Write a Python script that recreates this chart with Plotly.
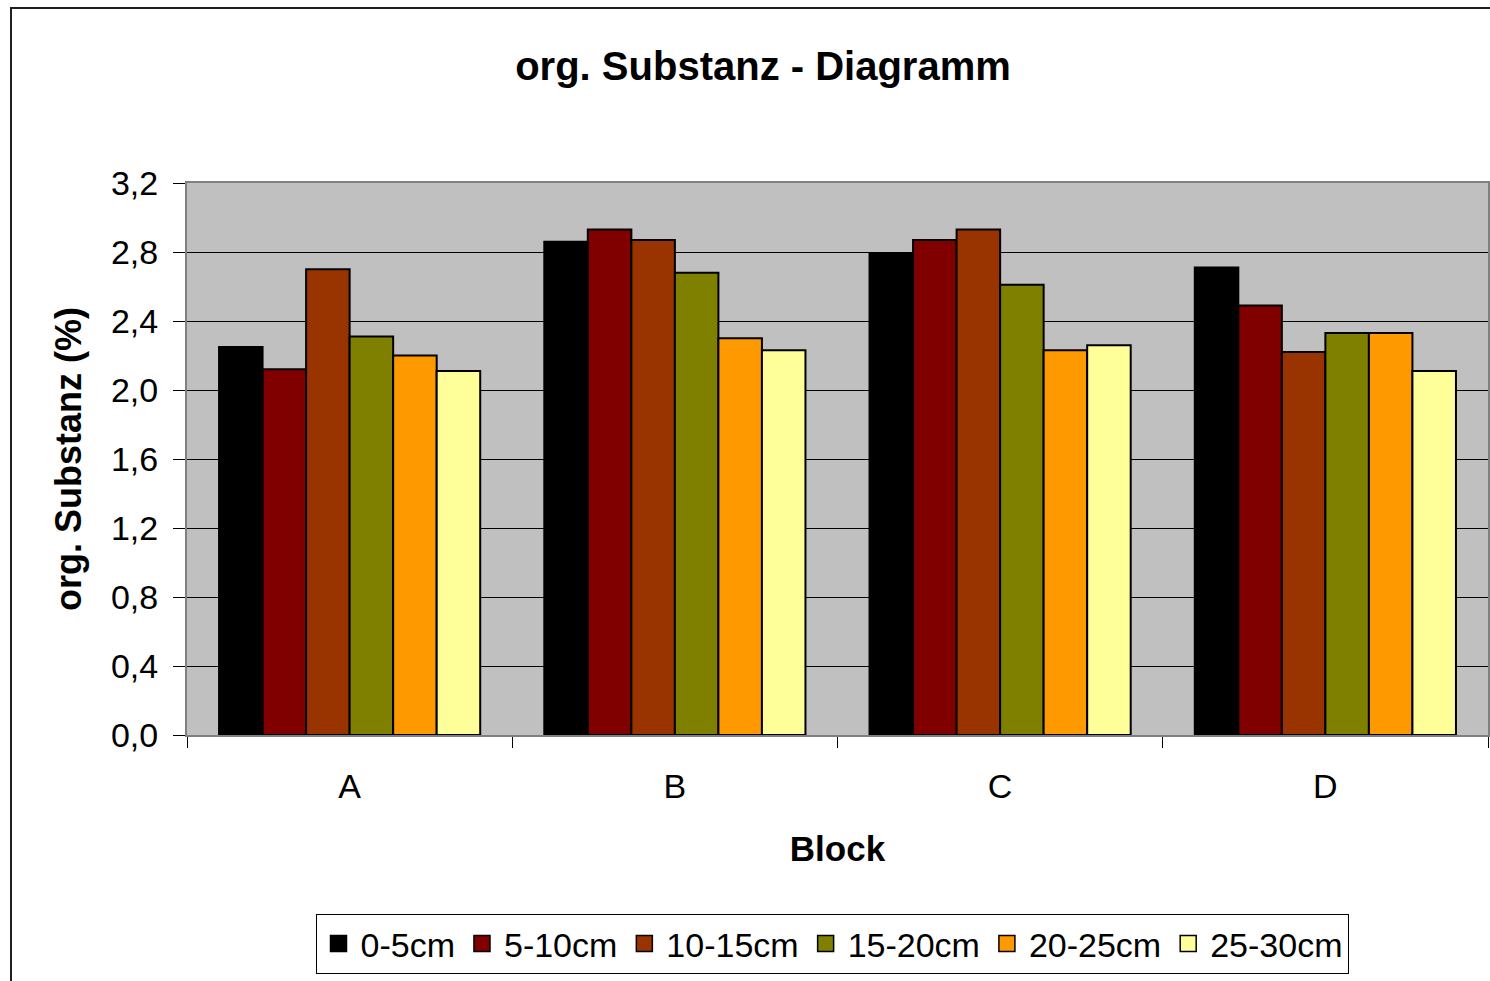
import plotly.graph_objects as go

# data
blocks = ["A", "B", "C", "D"]
depths = ["0-5cm", "5-10cm", "10-15cm", "15-20cm", "20-25cm", "25-30cm"]
values = {
    "0-5cm":   [2.25, 2.86, 2.79, 2.71],
    "5-10cm":  [2.12, 2.93, 2.87, 2.49],
    "10-15cm": [2.70, 2.87, 2.93, 2.22],
    "15-20cm": [2.31, 2.68, 2.61, 2.33],
    "20-25cm": [2.20, 2.30, 2.23, 2.33],
    "25-30cm": [2.11, 2.23, 2.26, 2.11],
}
colors = ["#000000", "#800000", "#993300", "#808000", "#FF9900", "#FFFF99"]

W, H = 1490, 981
L, R, T, B = 187, 2, 183, 981 - 735
PW, PH = W - L - R, H - T - B

def px(x):  # pixel -> paper x
    return (x - L) / PW

def py(y):  # pixel -> paper y
    return (H - B - y) / PH

FONT = "Liberation Sans, Arial, sans-serif"

fig = go.Figure()
for name, col in zip(depths, colors):
    fig.add_trace(go.Bar(
        x=blocks, y=values[name], name=name, showlegend=False,
        marker=dict(color=col, line=dict(color="black", width=2)),
    ))
    # legend entry with a bigger square swatch
    fig.add_trace(go.Scatter(
        x=[None], y=[None], mode="markers", name=name,
        marker=dict(symbol="square", size=18, color=col, line=dict(color="black", width=1.5)),
    ))

fig.update_layout(
    width=W, height=H,
    margin=dict(l=L, r=R, t=T, b=B, autoexpand=False),
    paper_bgcolor="white", plot_bgcolor="#C0C0C0",
    separators=",.",
    font=dict(family=FONT, size=34, color="black"),
    barmode="group", bargap=0.197, bargroupgap=0,
    title=dict(text="<b>org. Substanz - Diagramm</b>", x=763 / W, xanchor="center",
               y=1 - 66 / H, yanchor="middle", font=dict(size=40)),
    showlegend=True,
    legend=dict(orientation="h", x=px(832), xanchor="center", y=py(944), yanchor="middle",
                bordercolor="black", borderwidth=1, bgcolor="white",
                font=dict(size=34), traceorder="normal", itemclick=False, itemwidth=34),
    shapes=[dict(type="rect", xref="paper", yref="paper",
                 x0=px(11), y0=py(8), x1=px(1600), y1=py(1100),
                 line=dict(color="#202020", width=2), layer="below")],
)

fig.update_xaxes(
    type="category", tickson="boundaries", ticks="outside", ticklen=11, tickcolor="black",
    showline=True, linecolor="#808080", linewidth=2, mirror=True,
    tickfont=dict(size=34), ticklabelstandoff=20,
    title=dict(text="<b>Block</b>", font=dict(size=35), standoff=33),
)
fig.update_yaxes(
    range=[0, 3.2], dtick=0.4, tickformat=".1f", ticks="outside", ticklen=12, tickcolor="black",
    showgrid=True, gridcolor="black", gridwidth=1, zeroline=False,
    showline=True, linecolor="#808080", linewidth=2, mirror=True,
    tickfont=dict(size=34), ticklabelstandoff=8,
    title=dict(text="<b>org. Substanz (%)</b>", font=dict(size=36), standoff=18),
)

# drop the default page margin so the figure sits at the window's top-left corner
fig.write_html("out.html", config={"displayModeBar": False},
               post_script="document.body.style.margin='0';")
